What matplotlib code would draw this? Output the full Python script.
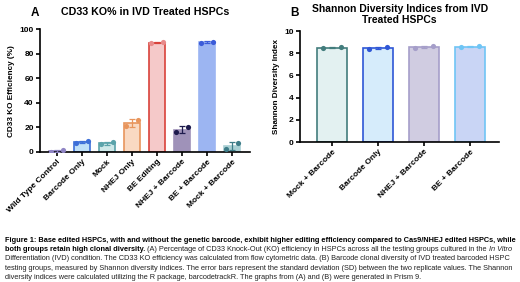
import matplotlib
matplotlib.use('Agg')
import matplotlib.pyplot as plt
import numpy as np

plt.rcParams['font.family'] = ['Liberation Sans', 'DejaVu Sans']

# panel A data: CD33 KO efficiency (%), two replicates per group
groups_a = ['Wild Type Control', 'Barcode Only', 'Mock', 'NHEJ Only',
            'BE Editing', 'NHEJ + Barcode', 'BE + Barcode', 'Mock + Barcode']
rep1_a = [0.4, 7.7, 6.3, 21.5, 88.8, 16.3, 89.0, 2.7]
rep2_a = [1.6, 8.9, 7.8, 26.0, 89.6, 20.2, 90.0, 7.4]
fill_a = ['#c9c0e6', '#bfe0f8', '#cde8e8', '#f9d9c2', '#f5c9c9',
          '#9f92b9', '#9cb5f2', '#a9d0d4']
edge_a = ['#8f84c4', '#3d6fd8', '#5aa3aa', '#e8955c', '#d9423b',
          '#9f92b9', '#9cb5f2', '#a9d0d4']
dot_a = ['#8f84c4', '#3d6fd8', '#5aa3aa', '#e8955c', '#e88a8a',
         '#1e1b4d', '#3b5bd9', '#3e7c88']

# panel B data: Shannon diversity index, two replicates per group
groups_b = ['Mock + Barcode', 'Barcode Only', 'NHEJ + Barcode', 'BE + Barcode']
rep1_b = [8.47, 8.38, 8.49, 8.57]
rep2_b = [8.55, 8.56, 8.63, 8.64]
fill_b = ['#e3f1f1', '#d6ecfb', '#d0cce1', '#c9d5f5']
edge_b = ['#437d7d', '#2f57d6', '#a59ec9', '#6fc5f5']
dot_b = ['#437d7d', '#2f57d6', '#a59ec9', '#6fc5f5']

fig = plt.figure(figsize=(5.2, 2.82), dpi=100)
ax_a = fig.add_axes([0.077, 0.461, 0.404, 0.435])
ax_b = fig.add_axes([0.577, 0.496, 0.383, 0.394])

tick_fs = 6.0


def draw_panel(ax, groups, r1, r2, fills, edges, dots, dx, width):
    x = np.arange(len(groups))
    reps = np.array([r1, r2])
    mean = reps.mean(axis=0)
    sd = reps.std(axis=0, ddof=1)
    ax.bar(x, mean, width=width, color=fills, edgecolor=edges, linewidth=1.2, zorder=2)
    for i in range(len(groups)):
        ax.errorbar(x[i], mean[i], yerr=sd[i], color=edges[i] if edges[i] != fills[i] else dots[i],
                    capsize=2.5, elinewidth=0.9, capthick=0.9, zorder=3)
        ax.scatter([x[i] - dx, x[i] + dx], [r1[i], r2[i]], s=14, color=dots[i],
                   zorder=4, linewidths=0)
    ax.set_xticks(x)
    ax.set_xticklabels(groups, rotation=45, ha='right', rotation_mode='anchor',
                       fontsize=tick_fs, fontweight='bold')
    for s in ['top', 'right']:
        ax.spines[s].set_visible(False)
    for s in ['left', 'bottom']:
        ax.spines[s].set_linewidth(1.2)
    ax.tick_params(axis='both', width=1.2, length=3, pad=1.5, labelsize=tick_fs)


draw_panel(ax_a, groups_a, rep1_a, rep2_a, fill_a, edge_a, dot_a, 0.23, 0.64)
ax_a.set_xlim(-0.68, 7.72)
ax_a.set_ylim(0, 100)
ax_a.set_yticks([0, 20, 40, 60, 80, 100])
for lab in ax_a.get_yticklabels():
    lab.set_fontweight('bold')
ax_a.set_ylabel('CD33 KO Efficiency (%)', fontsize=5.9, fontweight='bold', labelpad=3)
ax_a.set_title('CD33 KO% in IVD Treated HSPCs', fontsize=7.7, fontweight='bold', pad=10)

draw_panel(ax_b, groups_b, rep1_b, rep2_b, fill_b, edge_b, dot_b, 0.2, 0.65)
ax_b.set_xlim(-0.7, 3.63)
ax_b.set_ylim(0, 10)
ax_b.set_yticks([0, 2, 4, 6, 8, 10])
for lab in ax_b.get_yticklabels():
    lab.set_fontweight('bold')
ax_b.set_ylabel('Shannon Diversity Index', fontsize=5.9, fontweight='bold', labelpad=3)
ax_b.set_title('Shannon Diversity Indices from IVD\nTreated HSPCs', fontsize=7.5,
               fontweight='bold', pad=6, linespacing=1.1)

fig.text(31 / 520, 1 - 13 / 282, 'A', fontsize=8.5, fontweight='bold', va='center')
fig.text(290 / 520, 1 - 13 / 282, 'B', fontsize=8.5, fontweight='bold', va='center')

# caption
cap_fs = 5.35
cap_col = '#222222'
line_y = [240, 249.5, 259, 268.3, 277.5]
x0 = 5 / 520
fig.text(x0, 1 - line_y[0] / 282,
         'Figure 1: Base edited HSPCs, with and without the genetic barcode, exhibit higher editing '
         'efficiency compared to Cas9/NHEJ edited HSPCs, while',
         fontsize=cap_fs, fontweight='bold', va='center', color='black')
t1 = fig.text(x0, 1 - line_y[1] / 282, 'both groups retain high clonal diversity.',
              fontsize=cap_fs, fontweight='bold', va='center', color='black')
t2 = ax_a.annotate(' (A) Percentage of CD33 Knock-Out (KO) efficiency in HSPCs across all the testing '
                   'groups cultured in the ', xy=(1, 0), xycoords=t1, va='bottom',
                   fontsize=cap_fs, color=cap_col, annotation_clip=False)
ax_a.annotate('In Vitro', xy=(1, 0), xycoords=t2, va='bottom', fontsize=cap_fs,
              style='italic', color=cap_col, annotation_clip=False)
rest = ['Differentiation (IVD) condition. The CD33 KO efficiency was calculated from flow cytometric '
        'data. (B) Barcode clonal diversity of IVD treated barcoded HSPC',
        'testing groups, measured by Shannon diversity indices. The error bars represent the standard '
        'deviation (SD) between the two replicate values. The Shannon',
        'diversity indices were calculated utilizing the R package, barcodetrackR. The graphs from (A) '
        'and (B) were generated in Prism 9.']
for yy, txt in zip(line_y[2:], rest):
    fig.text(x0, 1 - yy / 282, txt, fontsize=cap_fs, va='center', color=cap_col)

fig.savefig('out.png', dpi=100)
